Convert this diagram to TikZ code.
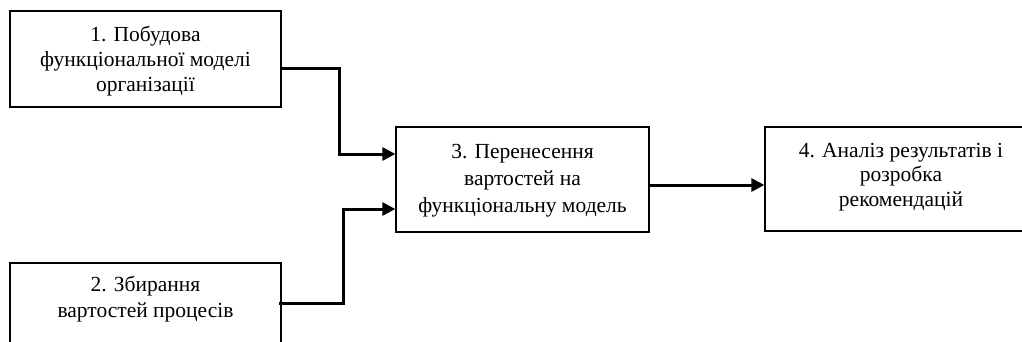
\documentclass[tikz,border=0pt]{standalone}
\usepackage{fontspec}
\setmainfont{Liberation Serif}
\usetikzlibrary{arrows.meta,calc}
\begin{document}
\begin{tikzpicture}[x=1pt,y=-1pt,
  box/.style={draw, line width=1.3pt, inner sep=0pt},
  txt/.style={align=center, inner sep=0pt, font=\fontsize{21.5}{25}\selectfont},
  conn/.style={line width=3pt, -{Triangle[length=13pt,width=13pt]}}]
\useasboundingbox (0,0) rectangle (1022,342);
\clip (0,0) rectangle (1022,342);
\node[box, minimum width=271pt, minimum height=96pt] (b1) at (145.5,59) {};
\node[txt] (t1) at (145.5,61) {1. Побудова\\функціональної моделі\\організації};
\node[box, minimum width=271pt, minimum height=96pt] (b2) at (145.5,311) {};
\node[txt, font=\fontsize{21.5}{26}\selectfont] (t2) at (145.5,299) {2. Збирання\\вартостей процесів};
\node[box, minimum width=253pt, minimum height=105pt] (b3) at (522.5,179.5) {};
\node[txt, font=\fontsize{21.5}{27}\selectfont] (t3) at (522.5,180.5)
  {3. Перенесення\\вартостей на\\функціональну модель};
\node[box, minimum width=272pt, minimum height=104pt] (b4) at (901,179) {};
\node[txt, font=\fontsize{21.5}{24.5}\selectfont] (t4) at (901,177) {4. Аналіз результатів і\\розробка\\рекомендацій};
\draw[conn] ($(b1.east)+(0,10)$) -- ++(58,0) |- ($(b3.west)+(0,-25.5)$);
\draw[conn] ($(b2.east)+(-3,-8)$) -- ++(65,0) |- ($(b3.west)+(0,29.5)$);
\draw[conn] ($(b3.east)+(0,5.5)$) -- ($(b4.west)+(0,6)$);
\end{tikzpicture}
\end{document}
